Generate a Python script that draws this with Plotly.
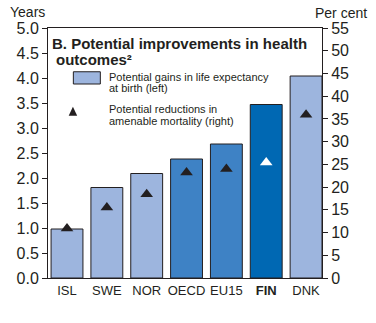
import plotly.graph_objects as go

categories = ["ISL", "SWE", "NOR", "OECD", "EU15", "FIN", "DNK"]
tick_text = ["ISL", "SWE", "NOR", "OECD", "EU15", "<b>FIN</b>", "DNK"]
life_gain = [0.98, 1.81, 2.09, 2.38, 2.68, 3.47, 4.04]
mortality_red = [10.9, 15.5, 18.4, 23.2, 24.0, 25.4, 35.9]
bar_colors = ["#9DB5DE", "#9DB5DE", "#9DB5DE", "#3E82C5", "#3E82C5", "#0068B3", "#9DB5DE"]
tri_colors = ["#231F20"] * 5 + ["#FFFFFF"] + ["#231F20"]
left_ticks = [i * 0.5 for i in range(11)]
right_ticks = list(range(0, 56, 5))

font = "Liberation Sans, Arial, sans-serif"
ink = "#231F20"

fig = go.Figure()
fig.add_trace(go.Bar(
    x=categories, y=life_gain, marker=dict(color=bar_colors, line=dict(color=ink, width=1)),
    width=0.8, yaxis="y", showlegend=False))
fig.add_trace(go.Scatter(
    x=categories, y=mortality_red, mode="markers", yaxis="y2",
    marker=dict(symbol="triangle-up", size=11, color=tri_colors, line=dict(width=0)),
    showlegend=False))

fig.update_layout(
    width=376, height=323,
    margin=dict(l=48, r=54, t=28, b=45),
    paper_bgcolor="white", plot_bgcolor="white",
    font=dict(family=font, color=ink),
    xaxis=dict(range=[-0.477, 6.4], tickvals=categories, ticktext=tick_text,
               tickfont=dict(size=13), showline=True, linecolor=ink, linewidth=1,
               mirror=True, ticks="", showgrid=False),
    yaxis=dict(range=[0, 5], tickvals=left_ticks, tickformat=".1f", tickfont=dict(size=16),
               showline=True, linecolor=ink, linewidth=1, ticks="outside", ticklen=5,
               tickcolor=ink, showgrid=False, zeroline=False),
    yaxis2=dict(range=[0, 55], tickvals=right_ticks, overlaying="y", side="right",
                tickfont=dict(size=16), showline=True, linecolor=ink, linewidth=1,
                ticks="outside", ticklen=5, tickcolor=ink, showgrid=False, zeroline=False),
)


def note(text, x, y, size, xanchor="left"):
    return dict(text=text, x=x, y=y, xref="paper", yref="paper", xanchor=xanchor,
                yanchor="middle", align="left", showarrow=False, font=dict(size=size))


fig.update_layout(annotations=[
    note("Years", -0.146, 1.064, 14),
    note("Per cent", 1.172, 1.061, 14, xanchor="right"),
    note("<b>B. Potential improvements in health</b>", 0.008, 0.936, 15),
    note("<b>outcomes²</b>", 0.022, 0.876, 15),
    note("Potential gains in life expectancy", 0.216, 0.805, 11),
    note("at birth (left)", 0.216, 0.759, 11),
    note("Potential reductions in", 0.216, 0.676, 11),
    note("amenable mortality (right)", 0.216, 0.629, 11),
], shapes=[
    dict(type="rect", xref="paper", yref="paper", x0=0.0925, x1=0.191, y0=0.776, y1=0.825,
         fillcolor="#9DB5DE", line=dict(color=ink, width=1)),
    dict(type="path", xref="paper", yref="paper",
         path="M 0.0755 0.649 L 0.1065 0.649 L 0.091 0.685 Z",
         fillcolor=ink, line=dict(width=0)),
])

fig.write_html("out.html")
